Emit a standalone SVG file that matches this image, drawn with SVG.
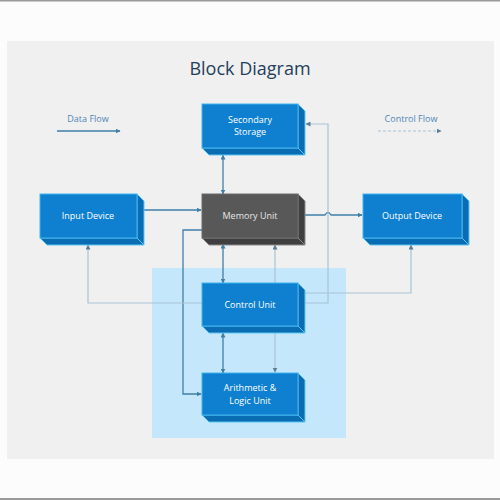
<svg xmlns="http://www.w3.org/2000/svg" width="500" height="500" viewBox="0 0 500 500">
<style>
.front{fill:#0e80cf;stroke:#3fb3ee;stroke-width:1}
.side{fill:#0a6db3;stroke:#5cc6f3;stroke-width:1}
.dfront{fill:#585858;stroke:#6a6a6a;stroke-width:1}
.dside{fill:#3f3f3f;stroke:#8a8a8a;stroke-width:1}
.lbl{font-family:"Open Sans","Liberation Sans",sans-serif;font-size:9px;fill:#ffffff;text-anchor:middle}
.dlbl{font-family:"Open Sans","Liberation Sans",sans-serif;font-size:9px;fill:#e6e6e6;text-anchor:middle}
.leg{font-family:"Open Sans","Liberation Sans",sans-serif;font-size:9px;fill:#4f86b8;text-anchor:middle}
.solid{fill:none;stroke:#3f7fa8;stroke-width:1.3}
.ctl{fill:none;stroke:#a9c4d6;stroke-width:1.2}
</style>
<defs>
<marker id="aS" viewBox="0 0 10 10" refX="9" refY="5" markerWidth="5" markerHeight="5" orient="auto-start-reverse" markerUnits="userSpaceOnUse"><path d="M0,0 L10,5 L0,10 z" fill="#3f7fa8"/></marker>
<marker id="aC" viewBox="0 0 10 10" refX="9" refY="5" markerWidth="5" markerHeight="5" orient="auto-start-reverse" markerUnits="userSpaceOnUse"><path d="M0,0 L10,5 L0,10 z" fill="#5a7d98"/></marker>
</defs>
<rect x="0" y="0" width="500" height="500" fill="#fcfcfc"/>
<rect x="0" y="0" width="500" height="1.5" fill="#9a9a9a"/>
<rect x="0" y="498" width="500" height="2" fill="#9a9a9a"/>
<rect x="7" y="41" width="487" height="418" fill="#f0f0f0"/>
<rect x="152" y="268" width="194" height="170" fill="#c4e7fb"/>
<text x="250" y="75" font-family="'Open Sans','Liberation Sans',sans-serif" font-size="18" fill="#243f5c" text-anchor="middle">Block Diagram</text>
<g id="legend">
<text class="leg" x="88" y="122">Data Flow</text>
<line class="solid" x1="57" y1="131" x2="120" y2="131" marker-end="url(#aS)"/>
<text class="leg" x="411" y="122">Control Flow</text>
<line class="ctl" x1="378" y1="131" x2="441" y2="131" stroke-dasharray="3,2" marker-end="url(#aC)"/>
</g>
<g id="connectors">
<line class="solid" x1="223" y1="155" x2="223" y2="194" marker-start="url(#aS)" marker-end="url(#aS)"/>
<line class="solid" x1="144" y1="210" x2="201" y2="210" marker-end="url(#aS)"/>
<path class="solid" d="M305,215 H325 q3,-5 6,0 H362" marker-end="url(#aS)"/>
<line class="solid" x1="223" y1="244" x2="223" y2="283" marker-start="url(#aS)" marker-end="url(#aS)"/>
<line class="solid" x1="223" y1="333" x2="223" y2="373" marker-start="url(#aS)" marker-end="url(#aS)"/>
<path class="solid" d="M202,230 H183 V394 H201" marker-end="url(#aS)"/>
<path class="ctl" d="M202,303 H88 V245" marker-end="url(#aC)"/>
<path class="ctl" d="M305,303 H328 V124 H306" marker-end="url(#aC)"/>
<path class="ctl" d="M305,293 H411 V245" marker-end="url(#aC)"/>
<line class="ctl" x1="275" y1="283" x2="275" y2="245" marker-end="url(#aC)"/>
<line class="ctl" x1="275" y1="333" x2="275" y2="372" marker-end="url(#aC)"/>
</g>
<g id="secondary-storage">
<path class="side" d="M298,104 L305,111 V155 H209 L202,148 H298 Z"/>
<line x1="298" y1="148" x2="305" y2="155" stroke="#5cc6f3" stroke-width="1"/>
<rect class="front" x="202" y="104" width="96" height="44"/>
<text class="lbl" x="250" y="123">Secondary</text>
<text class="lbl" x="250" y="135">Storage</text>
</g>
<g id="memory-unit">
<path class="dside" d="M298,194 L305,201 V245 H209 L202,238 H298 Z"/>
<line x1="298" y1="238" x2="305" y2="245" stroke="#8a8a8a" stroke-width="1"/>
<rect class="dfront" x="202" y="194" width="96" height="44"/>
<text class="dlbl" x="250" y="219">Memory Unit</text>
</g>
<g id="input-device">
<path class="side" d="M137,194 L144,201 V245 H47 L40,238 H137 Z"/>
<line x1="137" y1="238" x2="144" y2="245" stroke="#5cc6f3" stroke-width="1"/>
<rect class="front" x="40" y="194" width="97" height="44"/>
<text class="lbl" x="88" y="219">Input Device</text>
</g>
<g id="output-device">
<path class="side" d="M462,194 L469,201 V245 H370 L363,238 H462 Z"/>
<line x1="462" y1="238" x2="469" y2="245" stroke="#5cc6f3" stroke-width="1"/>
<rect class="front" x="363" y="194" width="99" height="44"/>
<text class="lbl" x="412" y="219">Output Device</text>
</g>
<g id="control-unit">
<path class="side" d="M298,283 L305,290 V333 H209 L202,326 H298 Z"/>
<line x1="298" y1="326" x2="305" y2="333" stroke="#5cc6f3" stroke-width="1"/>
<rect class="front" x="202" y="283" width="96" height="43"/>
<text class="lbl" x="250" y="308">Control Unit</text>
</g>
<g id="alu">
<path class="side" d="M298,373 L305,380 V422 H209 L202,415 H298 Z"/>
<line x1="298" y1="415" x2="305" y2="422" stroke="#5cc6f3" stroke-width="1"/>
<rect class="front" x="202" y="373" width="96" height="42"/>
<text class="lbl" x="250" y="391">Arithmetic &amp;</text>
<text class="lbl" x="250" y="404">Logic Unit</text>
</g>
</svg>
